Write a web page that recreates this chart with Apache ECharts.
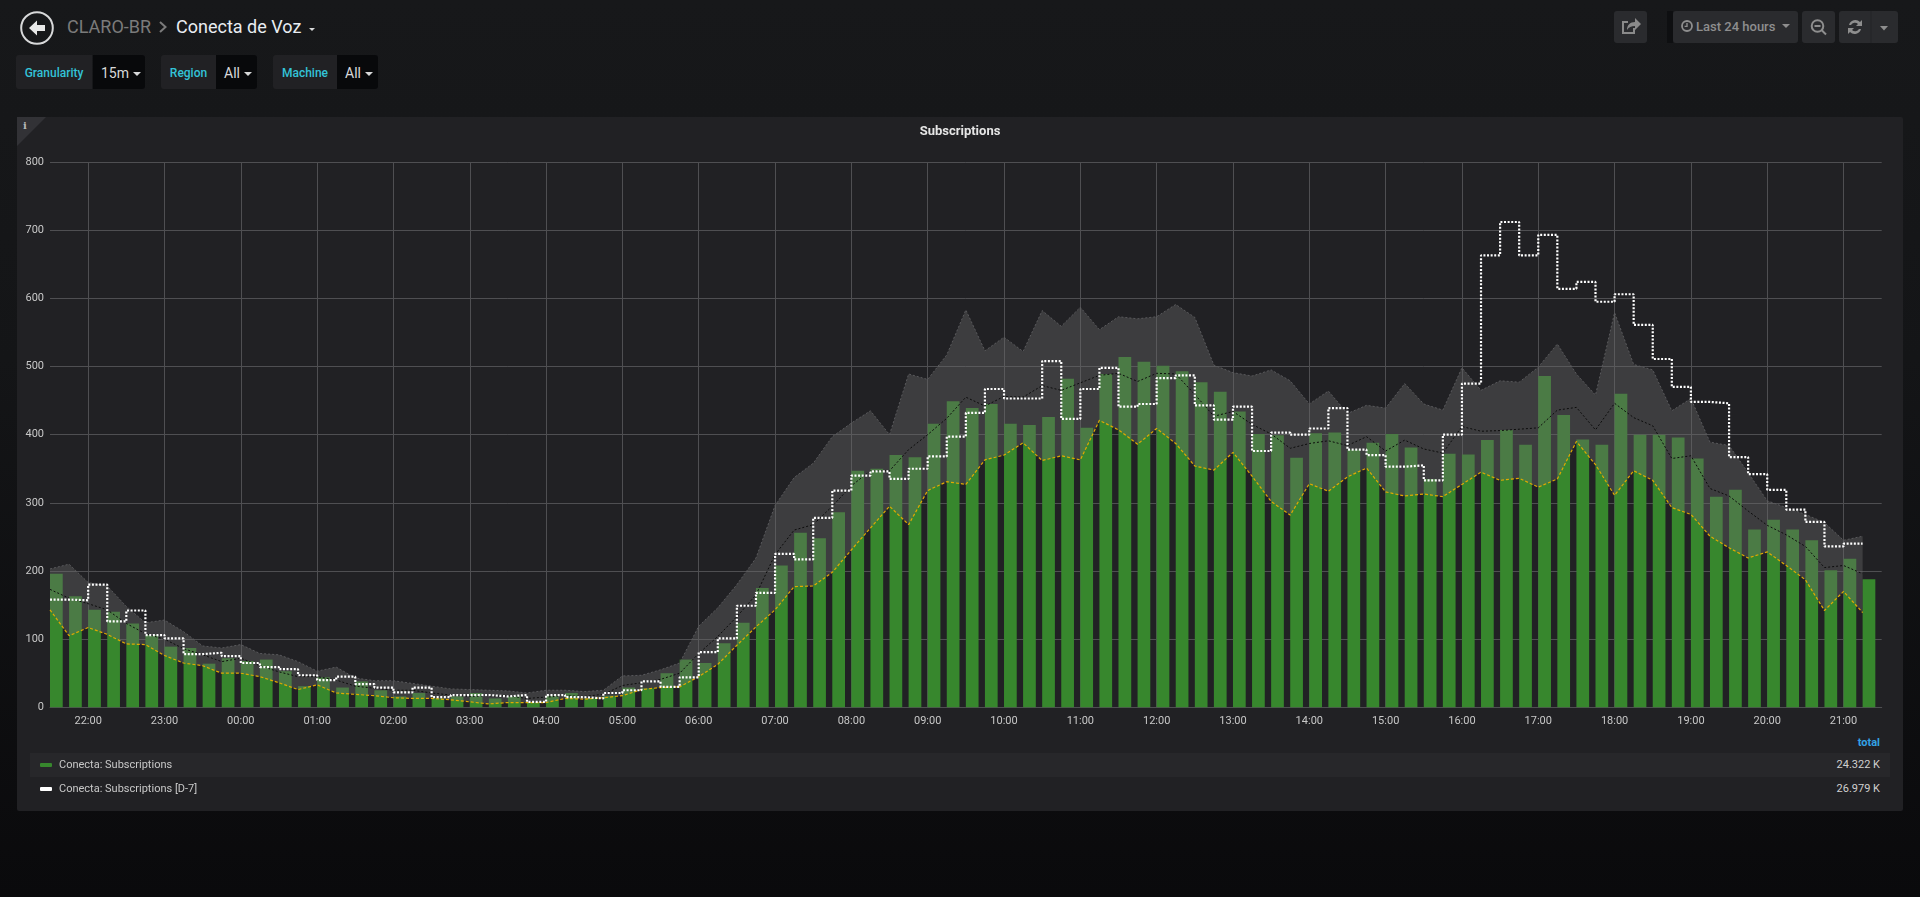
<!DOCTYPE html>
<html><head><meta charset="utf-8"><title>Conecta de Voz</title>
<script src="https://cdn.jsdelivr.net/npm/echarts@6/dist/echarts.min.js"></script>
<style>
html,body{margin:0;padding:0;width:1920px;height:897px;overflow:hidden;font-family:Roboto,sans-serif;
 background:linear-gradient(180deg,#17181a 0%,#141517 40%,#0a0a0c 100%);}
.a{position:absolute;white-space:nowrap;box-sizing:border-box}
#chart{position:absolute;left:0;top:0;width:1920px;height:897px}
.lab{background:#212124;color:#33c3d8;font-weight:500;font-size:12px;height:34px;line-height:36px;text-align:center;border-radius:3px 0 0 3px;top:55px}
.val{background:#08090b;color:#d8d9da;font-size:14px;height:34px;line-height:36px;border-radius:0 3px 3px 0;top:55px;padding-left:8px}
.caret{display:inline-block;width:0;height:0;border-left:4px solid transparent;border-right:4px solid transparent;border-top:4px solid #d8d9da;vertical-align:2px;margin-left:4px}
.btn{background:#2a2b2e;border-radius:3px;top:11px;height:32px}
</style></head><body>
<svg class="a" style="left:19px;top:10px" width="36" height="36" viewBox="0 0 36 36">
 <circle cx="18" cy="18" r="15.8" fill="none" stroke="#d8d9da" stroke-width="2"/>
 <path d="M10 18 L18 10.5 L18 15 L26 15 L26 21 L18 21 L18 25.5 Z" fill="#e8e8e8"/></svg>
<div class="a" style="left:67px;top:15px;font-size:18px;line-height:24px;color:#7b7b7b">CLARO-BR</div>
<svg class="a" style="left:158px;top:20px" width="10" height="14" viewBox="0 0 10 14"><path d="M2 2 L7.5 7 L2 12" fill="none" stroke="#7b7b7b" stroke-width="2"/></svg>
<div class="a" style="left:176px;top:15px;font-size:18px;line-height:24px;color:#e9edf2">Conecta de Voz</div>
<div class="a" style="left:309px;top:28px;width:0;height:0;border-left:3.5px solid transparent;border-right:3.5px solid transparent;border-top:3.5px solid #d8d9da"></div>

<div class="a lab" style="left:16px;width:76px">Granularity</div>
<div class="a val" style="left:93px;width:52px">15m<span class="caret"></span></div>
<div class="a lab" style="left:161px;width:55px">Region</div>
<div class="a val" style="left:216px;width:41px">All<span class="caret"></span></div>
<div class="a lab" style="left:273px;width:64px">Machine</div>
<div class="a val" style="left:337px;width:41px">All<span class="caret"></span></div>

<div class="a btn" style="left:1614px;width:33px"><svg width="33" height="32" viewBox="0 0 33 32"><path d="M20 17v5h-11v-11h5" fill="none" stroke="#8a8a8a" stroke-width="2"/><path d="M13 19c0-5 3-8 8-8V7l6 6-6 6v-4c-4 0-6 1-8 4z" fill="#8a8a8a"/></svg></div>
<div class="a" style="left:1667px;top:11px;width:6px;height:32px;background:#0e0f11"></div>
<div class="a btn" style="left:1673px;width:125px;color:#8e8e8e;font-size:13px;font-weight:500;line-height:32px;padding-left:23px">Last 24 hours</div>
<svg class="a" style="left:1680px;top:19px" width="14" height="14" viewBox="0 0 14 14"><circle cx="7" cy="7" r="5" fill="none" stroke="#8e8e8e" stroke-width="1.8"/><path d="M7 4v3.4H4.6" fill="none" stroke="#8e8e8e" stroke-width="1.4"/></svg>
<div class="a" style="left:1782px;top:24px;width:0;height:0;border-left:4px solid transparent;border-right:4px solid transparent;border-top:4.5px solid #8e8e8e"></div>
<div class="a btn" style="left:1802px;width:33px"><svg width="33" height="32" viewBox="0 0 33 32"><circle cx="15.5" cy="15" r="5.8" fill="none" stroke="#8e8e8e" stroke-width="2"/><path d="M12.5 15h6M19.5 19l4.5 4.5" fill="none" stroke="#8e8e8e" stroke-width="2"/></svg></div>
<div class="a btn" style="left:1839px;width:59px"><svg width="59" height="32" viewBox="0 0 59 32"><path d="M10 14a6.5 6.5 0 0 1 11-3l2-2v6h-6l2-2a4.5 4.5 0 0 0-7 1zM22 18a6.5 6.5 0 0 1-11 3l-2 2v-6h6l-2 2a4.5 4.5 0 0 0 7-1z" fill="#8e8e8e"/><path d="M32 0v32" stroke="#232427"/><path d="M41 15h8l-4 4.5z" fill="#8e8e8e"/></svg></div>

<div class="a" style="left:17px;top:117px;width:1886px;height:694px;background:#212124;border-radius:2px"></div>
<svg class="a" style="left:17px;top:117px" width="29" height="29" viewBox="0 0 29 29"><path d="M0 0H29L0 29Z" fill="#323236"/></svg>
<div class="a" style="left:23px;top:120px;font-family:'DejaVu Serif',serif;font-weight:700;font-size:10px;line-height:12px;color:#b9b9b9">i</div>
<div class="a" style="left:30px;top:753px;width:1860px;height:24px;background:#27272a"></div>
<div class="a" style="right:40px;top:736px;font-size:11px;line-height:13px;font-weight:700;color:#33a2e5">total</div>
<div class="a" style="right:40px;top:758px;font-size:11px;line-height:14px;color:#d0d0d0">24.322 K</div>
<div class="a" style="right:40px;top:782px;font-size:11px;line-height:14px;color:#d0d0d0">26.979 K</div>
<div id="chart"></div>
<script>
// Start of the 24 h window and 15-minute slots
const startTime = new Date(2020, 0, 1, 21, 30).getTime();
const slotMs = 15 * 60 * 1000;
const barSpanMs = 10 * 60 * 1000;

const subscriptions = [196,163,143,140,123,106,89,87,64,72,68,70,53,31,44,29,38,25,16,21,13,16,21,13,
 16,7,17,21,13,17,29,28,50,70,65,94,124,175,208,256,248,286,347,350,370,367,416,449,
 439,445,416,414,426,482,410,489,514,507,501,493,477,463,434,401,399,366,402,403,378,388,401,381,
 335,372,371,392,407,385,486,429,393,385,460,400,400,396,365,309,319,261,275,261,245,201,218,188];

const subscriptionsD7 = [158,157,180,126,142,106,101,78,80,75,65,59,56,47,40,45,34,29,22,29,15,18,18,16,
 18,8,18,15,13,21,25,38,30,44,81,101,149,168,225,217,278,318,340,346,335,350,368,397,
 432,467,453,453,508,423,467,498,441,445,483,487,443,422,441,376,403,400,409,439,378,370,353,355,
 333,400,475,663,712,663,693,614,624,595,606,561,511,470,448,446,367,342,319,290,272,236,240,240];

const bandLower = [143,105,117,107,93,92,76,65,61,50,50,45,36,26,33,21,19,17,14,13,13,11,8,5,
 7,7,7,13,12,14,17,26,29,30,45,63,91,118,143,177,178,198,231,263,295,268,318,331,
 327,363,370,388,362,369,363,421,407,386,409,387,354,348,374,339,302,282,328,317,338,351,316,310,
 313,309,327,345,333,336,323,335,390,356,311,347,333,293,283,251,234,219,228,208,187,142,170,139];

const bandMean = [173,160,152,143,123,108,100,86,77,67,72,61,52,45,45,40,31,28,25,25,21,18,16,16,
 17,13,15,17,16,19,32,36,41,50,79,104,133,165,224,260,268,295,325,347,347,378,400,424,
 455,442,456,455,472,465,476,487,490,478,490,489,459,427,434,415,401,380,387,391,384,397,376,392,
 379,373,412,405,406,408,410,436,440,407,446,425,413,365,369,321,310,288,267,253,236,205,208,196];

const bandUpper = [203,210,183,178,148,124,128,111,90,87,92,79,77,67,53,59,43,39,39,35,31,27,26,25,
 24,21,25,25,23,25,46,47,55,65,119,146,180,219,296,337,358,397,417,435,400,489,481,517,
 583,523,543,522,582,559,587,554,573,570,573,591,572,502,491,486,495,479,445,464,431,443,439,475,
 445,436,498,465,479,477,499,533,489,458,579,503,495,435,453,389,384,344,303,293,283,271,245,251];

const yTicks = {min: 0, max: 800, interval: 100};
const seriesNames = ['Conecta: Subscriptions', 'Conecta: Subscriptions [D-7]'];

const timeAt = i => startTime + i * slotMs;
const pad = n => String(n).padStart(2, '0');
const lineOpts = {type: 'line', symbol: 'none', silent: true, animation: false, smooth: false};

// Bars start at their time stamp and span 10 of the 15 minutes, like the source panel.
function renderBar(params, api) {
  const t = api.value(0), v = api.value(1);
  const topLeft = api.coord([t, v]);
  const bottomRight = api.coord([t + barSpanMs, 0]);
  return {type: 'rect', transition: [],
    shape: {x: topLeft[0], y: topLeft[1], width: bottomRight[0] - topLeft[0], height: bottomRight[1] - topLeft[1]},
    style: {fill: '#37872d'}};
}

const chart = echarts.init(document.getElementById('chart'), null, {renderer: 'canvas'});
chart.setOption({
  animation: false,
  backgroundColor: 'transparent',
  textStyle: {fontFamily: 'Roboto, sans-serif'},
  title: {text: 'Subscriptions', left: 'center', top: 119.5,
    textStyle: {color: '#e6e6e6', fontSize: 13, fontWeight: 700, fontFamily: 'Roboto, sans-serif', lineHeight: 14}},
  legend: {
    orient: 'vertical', left: 40, top: 758, padding: 0, itemGap: 10, itemWidth: 12, itemHeight: 4, selectedMode: false,
    textStyle: {color: '#c8c8c8', fontSize: 11, padding: [0, 0, 0, 2], fontFamily: 'Roboto, sans-serif', lineHeight: 14},
    data: [
      {name: seriesNames[0], icon: 'roundRect', itemStyle: {color: '#37872d', borderWidth: 0}},
      {name: seriesNames[1], icon: 'roundRect', itemStyle: {color: '#ffffff', borderWidth: 0}, lineStyle: {width: 0}}
    ]
  },
  grid: {left: 50, right: 38.3, top: 162, bottom: 189.7, containLabel: false},
  xAxis: {
    type: 'time', min: timeAt(0), max: timeAt(96), minInterval: 3600000, maxInterval: 3600000,
    axisLine: {show: true, lineStyle: {color: '#4f4f52', width: 1}},
    axisTick: {show: false},
    splitLine: {show: true, showMinLine: false, showMaxLine: false, lineStyle: {color: '#4f4f52', width: 1}},
    axisLabel: {color: '#c8c8c8', fontSize: 11, margin: 8, showMinLabel: false, showMaxLabel: false, hideOverlap: false,
      formatter: v => { const d = new Date(v); return pad(d.getHours()) + ':' + pad(d.getMinutes()); }}
  },
  yAxis: {
    type: 'value', min: yTicks.min, max: yTicks.max, interval: yTicks.interval,
    axisLine: {show: false}, axisTick: {show: false},
    splitLine: {show: true, lineStyle: {color: '#4f4f52', width: 1}},
    axisLabel: {color: '#c8c8c8', fontSize: 11, margin: 6}
  },
  series: [
    {name: seriesNames[0], type: 'custom', silent: true, z: 2, renderItem: renderBar,
     encode: {x: 0, y: 1}, itemStyle: {color: '#37872d'},
     data: subscriptions.map((v, i) => [timeAt(i), v])},
    {...lineOpts, name: 'lower', z: 3, stack: 'band',
     lineStyle: {color: '#e0aa00', width: 1.2, type: [3, 2]},
     data: bandLower.map((v, i) => [timeAt(i), v])},
    {...lineOpts, name: 'upper', z: 3, stack: 'band',
     lineStyle: {color: '#59595c', width: 1, type: [2, 2]},
     areaStyle: {color: 'rgba(105,105,105,0.4)', opacity: 1},
     data: bandUpper.map((v, i) => [timeAt(i), v - bandLower[i]])},
    {...lineOpts, name: 'mean', z: 4,
     lineStyle: {color: '#0c0c0c', width: 1, type: [2, 2]},
     data: bandMean.map((v, i) => [timeAt(i), v])},
    {...lineOpts, name: seriesNames[1], z: 5, step: 'end',
     itemStyle: {color: '#ffffff'},
     lineStyle: {color: '#ffffff', width: 2.2, type: [2, 1.6]},
     data: subscriptionsD7.map((v, i) => [timeAt(i), v])}
  ]
});
</script>
</body></html>
